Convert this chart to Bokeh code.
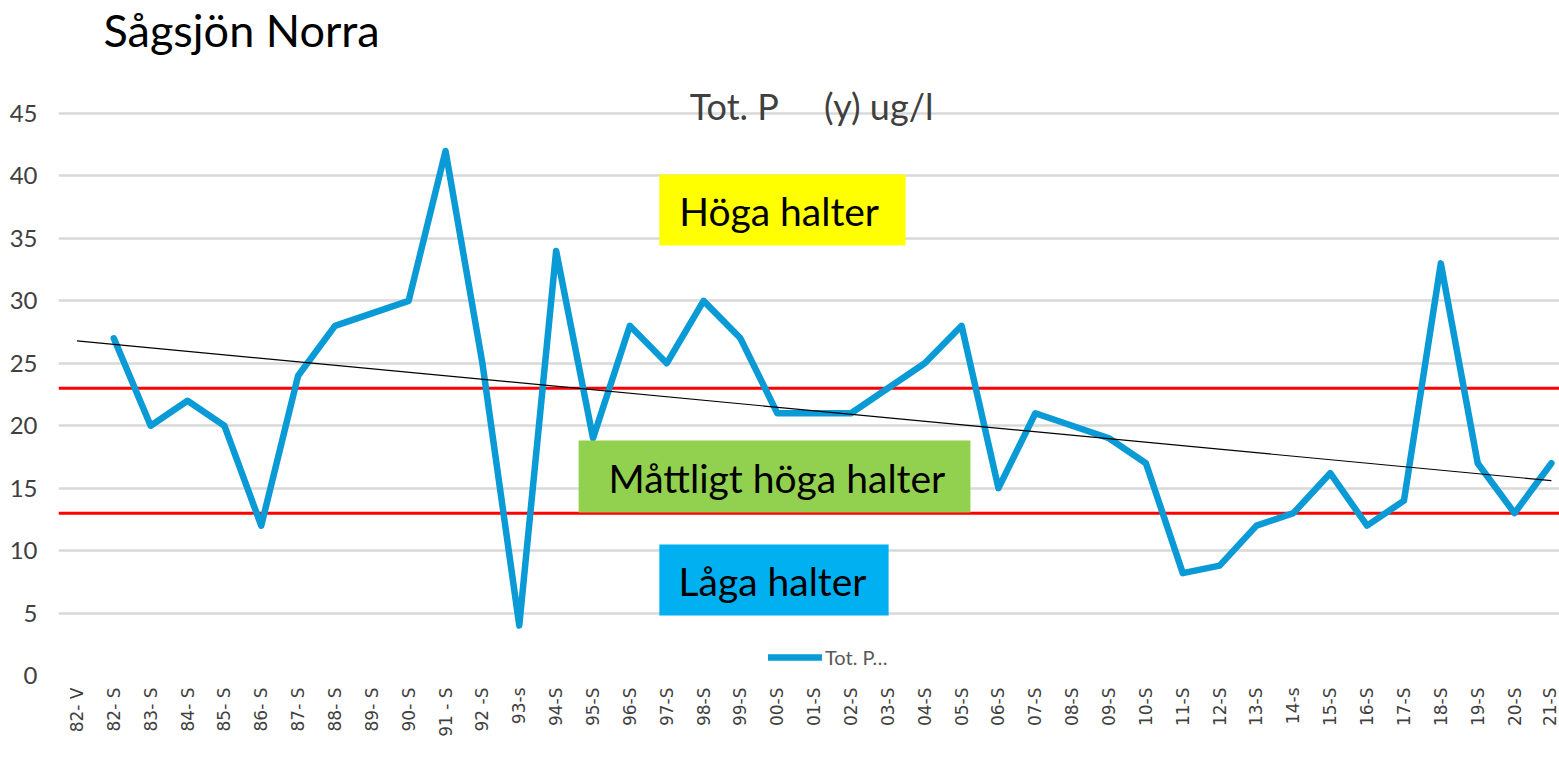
import math
from bokeh.plotting import figure
from bokeh.models import (Range1d, FixedTicker, Span, BoxAnnotation, Label,
                          Legend, LegendItem, ColumnDataSource)
from bokeh.embed import file_html
from bokeh.resources import INLINE

# ---------------- data ----------------
categories = ["82- V", "82- S", "83- S", "84- S", "85- S", "86- S", "87- S",
              "88- S", "89- S", "90- S", "91 - S", "92 -S", "93-s", "94-S",
              "95-S", "96-S", "97-S", "98-S", "99-S", "00-S", "01-S", "02-S",
              "03-S", "04-S", "05-S", "06-S", "07-S", "08-S", "09-S", "10-S",
              "11-S", "12-S", "13-S", "14-s", "15-S", "16-S", "17-S", "18-S",
              "19-S", "20-S", "21-S"]
tot_p = [float("nan"), 27, 20, 22, 20, 12, 24, 28, 29, 30, 42, 25, 4, 34,
         19, 28, 25, 30, 27, 21, 21, 21, 23, 25, 28, 15, 21, 20, 19, 17,
         8.2, 8.8, 12, 13, 16.2, 12, 14, 33, 17, 13, 17]
trend_ends = [26.8, 15.6]          # linear trend, first and last category
limits = [23, 13]                  # class boundaries
y_ticks = [0, 5, 10, 15, 20, 25, 30, 35, 40, 45]

idx = list(range(len(categories)))

p = figure(frame_width=1501, frame_height=675, output_backend="svg",
           toolbar_location=None,
           x_range=Range1d(-0.5, 40.22), y_range=Range1d(0, 54.05),
           min_border_left=58, min_border_right=0, min_border_top=0,
           min_border_bottom=0)
p.outline_line_color = None
p.background_fill_color = "white"
p.border_fill_color = "white"

# axes
p.xgrid.grid_line_color = None
p.ygrid.grid_line_color = "#D9D9D9"
p.ygrid.grid_line_width = 2.5
p.yaxis.ticker = FixedTicker(ticks=y_ticks)
p.yaxis.axis_line_color = None
p.yaxis.major_tick_line_color = None
p.yaxis.minor_tick_line_color = None
p.yaxis.major_tick_out = 0
p.yaxis.major_tick_in = 0
p.yaxis.minor_tick_out = 0
p.yaxis.major_label_standoff = 21
p.yaxis.major_label_text_font = "Lato"
p.yaxis.major_label_text_font_size = "24px"
p.yaxis.major_label_text_color = "#404040"

p.xaxis.ticker = FixedTicker(ticks=idx)
p.xaxis.major_label_overrides = {i: c for i, c in zip(idx, categories)}
p.xaxis.major_label_orientation = math.pi / 2
p.xaxis.axis_line_color = None
p.xaxis.major_tick_line_color = None
p.xaxis.minor_tick_line_color = None
p.xaxis.major_tick_out = 0
p.xaxis.major_tick_in = 0
p.xaxis.minor_tick_out = 0
p.xaxis.minor_tick_in = 0
p.xaxis.axis_label_standoff = 0
p.xaxis.major_label_standoff = 12
p.xaxis.major_label_text_font = "DejaVu Sans"
p.xaxis.major_label_text_font_size = "17px"
p.xaxis.major_label_text_color = "#404040"

# threshold lines
for lv in limits:
    p.add_layout(Span(location=lv, dimension="width", line_color="#FF0000",
                      line_width=3, level="underlay"))

# data line
src = ColumnDataSource(dict(x=idx, y=tot_p))
r = p.line("x", "y", source=src, line_color="#0A9AD6", line_width=6.5,
           line_join="round", line_cap="round")

# trend line
p.line([idx[0], idx[-1]], trend_ends, line_color="black", line_width=1.2)

# class boxes
boxes = [
    (15.80, 22.48, 40.11, 34.43, "#FFFF00"),
    (13.61, 24.24, 18.82, 13.05, "#92D050"),
    (15.80, 22.02, 10.49, 4.80, "#00B0F0"),
]
for l, rr, t, b, c in boxes:
    p.add_layout(BoxAnnotation(left=l, right=rr, top=t, bottom=b,
                               fill_color=c, fill_alpha=1.0, line_color=None))

texts = [(19.05, 37.18, "Höga halter"),
         (18.99, 15.85, "Måttligt höga halter"),
         (18.87, 7.53, "Låga halter")]
for x, y, t in texts:
    p.add_layout(Label(x=x, y=y, text=t, text_align="center",
                       text_baseline="alphabetic", text_font="Lato",
                       text_font_size="39px", text_color="black"))

# chart title (inside chart area)
p.add_layout(Label(x=19.93, y=45.6, text="Tot. P\u00a0\u00a0\u00a0\u00a0 (y) ug/l",
                   text_align="center", text_baseline="alphabetic",
                   text_font="Lato", text_font_size="36px",
                   text_color="#404040"))

# slide title
p.add_layout(Label(x=0.72, y=51.65, text="Sågsjön Norra", text_align="left",
                   text_baseline="alphabetic", text_font="Lato",
                   text_font_size="45px", text_color="black"))

# legend (kept inside the plot frame so that it is not clipped)
legend = Legend(items=[LegendItem(label="Tot. P…", renderers=[r])],
                location=(710, 6), orientation="horizontal",
                glyph_width=54, glyph_height=16, label_height=16,
                label_standoff=3, padding=0, margin=0, spacing=0,
                background_fill_alpha=0, border_line_color=None,
                label_text_font="Lato", label_text_font_size="20px",
                label_text_color="#595959")
p.add_layout(legend, "center")

open("out.html", "w").write(file_html(p, INLINE))
